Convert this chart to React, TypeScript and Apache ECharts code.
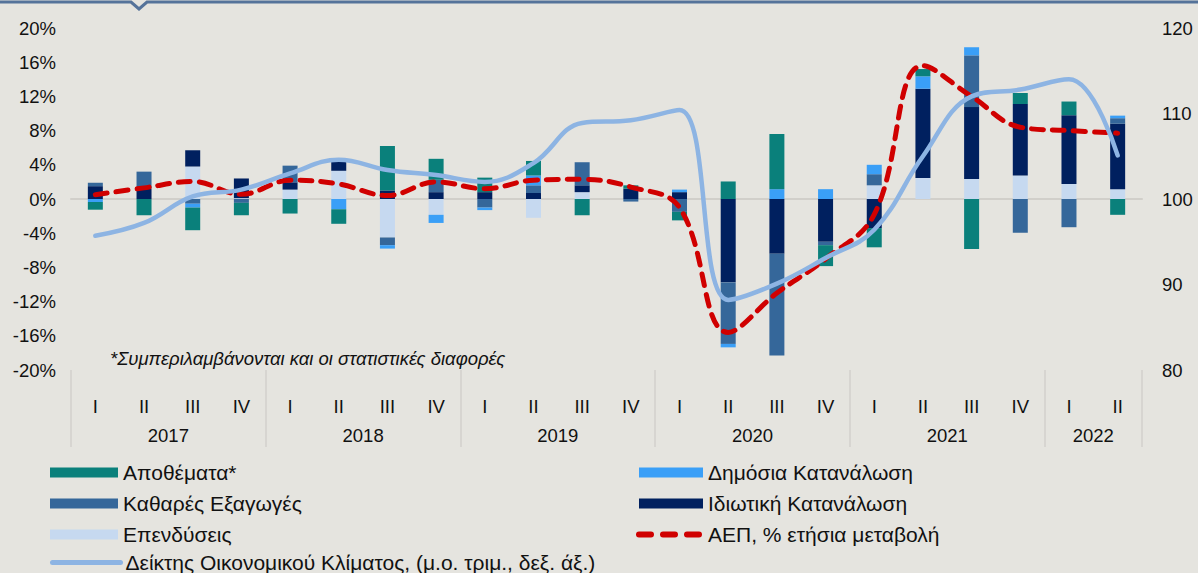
import React, { useEffect, useRef } from "react";
import * as echarts from "echarts";

const quarters = ["I","II","III","IV","I","II","III","IV","I","II","III","IV","I","II","III","IV","I","II","III","IV","I","II"];
const yearSlots = ["","","2017","","","","2018","","","","2019","","","","2020","","","","2021","","","2022",""];
const separatorIdx = [0, 4, 8, 12, 16, 20, 22];

const investments = [0, 0, 3.8, 0.1, 1.1, 3.3, -4.5, -1.85, 0, -2.2, 0.8, 0, 0, 0, 0, 0, 1.6, 2.45, 2.35, 2.75, 1.75, 1.15];
const privateCons = [1.5, 1.2, 1.9, 2.3, 0.85, 1.1, 1.0, 0.8, 0.8, 0.7, 0.8, 1.2, 0.8, -9.75, -6.4, -5.0, -3.4, 10.45, 8.4, 8.35, 8.05, 7.65];
const netExports = [0.4, 2.0, -0.55, -0.45, 1.95, 0, -0.9, 1.45, -1.0, 0.9, 2.7, -0.3, -1.5, -7.2, -11.9, -0.4, 1.3, 0, 6.05, -3.95, -3.3, 0.65];
const publicCons = [-0.35, 0, -0.45, 0, 0, -1.2, -0.4, -0.95, -0.3, 1.15, 0, 0, 0.3, -0.4, 1.15, 1.15, 1.1, 1.45, 0.95, 0, 0, 0.3];
const inventories = [-0.9, -1.9, -2.65, -1.45, -1.7, -1.7, 5.2, 2.45, 1.7, 1.7, -1.9, 0.4, -1.0, 2.05, 6.45, -2.45, -2.25, 0.85, -5.85, 1.3, 1.6, -1.85];
const gdp = [0.5, 1.3, 2.05, 0.55, 2.2, 1.75, 0.4, 2.0, 1.2, 2.2, 2.3, 1.4, -1.0, -15.6, -11.0, -7.0, -1.8, 15.6, 12.0, 8.4, 8.0, 7.7];
const esi = [95.7, 97.2, 100.3, 101.1, 103.0, 104.6, 103.4, 102.8, 102.0, 104.2, 108.9, 109.2, 110.4, 88.2, 90.1, 93.1, 96.4, 105.0, 112.0, 112.8, 114.0, 105.1];

const N_INV = "Επενδύσεις";
const N_PRIV = "Ιδιωτική Κατανάλωση";
const N_NX = "Καθαρές Εξαγωγές";
const N_PUB = "Δημόσια Κατανάλωση";
const N_STK = "Αποθέματα*";
const N_GDP = "ΑΕΠ, % ετήσια μεταβολή";
const N_ESI = "Δείκτης Οικονομικού Κλίματος, (μ.ο. τριμ., δεξ. άξ.)";
const footnote = "*Συμπεριλαμβάνονται και οι στατιστικές διαφορές";

const FONT = "'Liberation Sans', Arial, sans-serif";
const LEG_FONT = 21;
const AX_FONT = 18.5;
const GDP_COLOR = "#d00000";
const ESI_COLOR = "#8db4e3";

export default function App() {
  const ref = useRef<HTMLDivElement>(null);
  useEffect(() => {
    document.body.style.margin = "0";
    const chart = echarts.init(ref.current!, undefined, { renderer: "svg" });
    const bar = (name: string, data: number[], color: string) => ({
      name,
      type: "bar",
      stack: "c",
      data,
      barWidth: 15,
      itemStyle: { color },
      xAxisIndex: 0,
      yAxisIndex: 0,
    });
    const legText = { fontSize: LEG_FONT, color: "#111", lineHeight: 20, fontFamily: FONT };
    const legBase = {
      orient: "vertical",
      padding: 0,
      itemHeight: 10,
      itemGap: 10,
      textStyle: legText,
      selectedMode: false,
    };
    chart.setOption({
      animation: false,
      backgroundColor: "#e5e4df",
      textStyle: { fontFamily: FONT },
      grid: { left: 71, right: 56, top: 28, bottom: 203 },
      legend: [
        {
          ...legBase,
          left: 50,
          top: 462,
          itemWidth: 68,
          data: [
            { name: N_STK, icon: "rect" },
            { name: N_NX, icon: "rect" },
            { name: N_INV, icon: "rect" },
          ],
        },
        {
          ...legBase,
          left: 50,
          top: 552,
          itemWidth: 68,
          data: [
            {
              name: N_ESI,
              itemStyle: { opacity: 0 },
              lineStyle: { width: 5, color: ESI_COLOR, cap: "round" },
            },
          ],
        },
        {
          ...legBase,
          left: 636,
          top: 462,
          itemWidth: 64,
          data: [
            { name: N_PUB, icon: "rect" },
            { name: N_PRIV, icon: "rect" },
            {
              name: N_GDP,
              itemStyle: { opacity: 0 },
              lineStyle: { width: 6, color: GDP_COLOR, type: [12, 12], cap: "round" },
            },
          ],
        },
      ],
      xAxis: [
        {
          type: "category",
          data: quarters,
          position: "bottom",
          axisLine: { show: false },
          axisTick: { show: false },
          axisLabel: { interval: 0, margin: 27, fontSize: AX_FONT, color: "#111" },
        },
        {
          type: "category",
          data: yearSlots,
          position: "bottom",
          boundaryGap: false,
          axisLine: { show: false },
          axisTick: {
            show: true,
            interval: (i: number) => separatorIdx.includes(i),
            length: 77,
            lineStyle: { color: "#d2d1cc", width: 1.5 },
          },
          axisLabel: { interval: 0, margin: 56, fontSize: AX_FONT, color: "#111" },
        },
        {
          type: "category",
          data: quarters,
          position: "bottom",
          axisLine: { show: true, onZero: true, onZeroAxisIndex: 0, lineStyle: { color: "#d1cfca", width: 2 } },
          axisTick: { show: false },
          axisLabel: { show: false },
        },
      ],
      yAxis: [
        {
          type: "value",
          min: -20,
          max: 20,
          interval: 4,
          position: "left",
          splitLine: { show: false },
          axisLine: { show: false },
          axisTick: { show: false },
          axisLabel: { formatter: "{value}%", margin: 15, fontSize: AX_FONT, color: "#111" },
        },
        {
          type: "value",
          min: 80,
          max: 120,
          interval: 10,
          position: "right",
          splitLine: { show: false },
          axisLine: { show: false },
          axisTick: { show: false },
          axisLabel: { margin: 20, fontSize: AX_FONT, color: "#111" },
        },
      ],
      series: [
        bar(N_INV, investments, "#c6d9f0"),
        bar(N_PRIV, privateCons, "#00205f"),
        bar(N_NX, netExports, "#35679a"),
        bar(N_PUB, publicCons, "#3a9ff7"),
        bar(N_STK, inventories, "#0a807b"),
        {
          name: N_GDP,
          type: "line",
          data: gdp,
          smooth: 0.4,
          symbol: "none",
          yAxisIndex: 0,
          xAxisIndex: 0,
          lineStyle: { color: GDP_COLOR, width: 5, type: [12, 9], cap: "round" },
          itemStyle: { color: GDP_COLOR },
          z: 3,
        },
        {
          name: N_ESI,
          type: "line",
          data: esi,
          smooth: 0.4,
          symbol: "none",
          yAxisIndex: 1,
          xAxisIndex: 0,
          lineStyle: { color: ESI_COLOR, width: 4.5, cap: "round" },
          itemStyle: { color: ESI_COLOR },
          z: 4,
        },
      ],
      graphic: [
        {
          type: "polyline",
          shape: { points: [[0, 2], [131, 2], [139, 9], [147, 2], [1198, 2]] },
          style: { stroke: "#55739a", lineWidth: 3, fill: "none" },
        },
        {
          type: "text",
          left: 110,
          top: 349,
          style: { text: footnote, font: `italic 18.5px ${FONT}`, fill: "#111" },
        },
      ],
    });
    return () => chart.dispose();
  }, []);
  return <div ref={ref} style={{ width: 1198, height: 573 }} />;
}
